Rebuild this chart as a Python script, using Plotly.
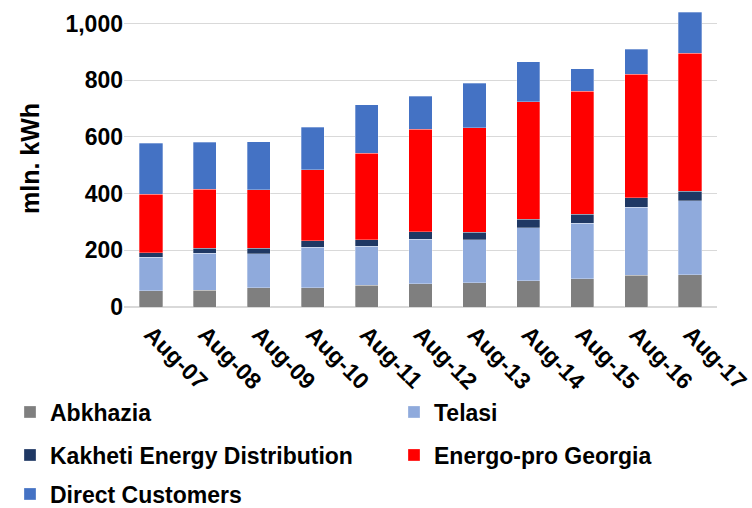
import plotly.graph_objects as go

# Monthly electricity consumption (August), mln. kWh
months = ["Aug-07", "Aug-08", "Aug-09", "Aug-10", "Aug-11", "Aug-12",
          "Aug-13", "Aug-14", "Aug-15", "Aug-16", "Aug-17"]

abkhazia = [57, 59, 68, 68, 77, 82, 85, 92, 99, 112, 113]
telasi = [119, 131, 120, 142, 138, 157, 152, 188, 196, 240, 262]
kakheti = [16, 18, 19, 23, 23, 26, 26, 30, 33, 33, 34]
energo_pro = [205, 208, 207, 251, 304, 362, 369, 415, 433, 437, 487]
direct_customers = [181, 166, 170, 150, 172, 116, 157, 140, 80, 88, 144]

# name, values, colour, legend id, legend position (x, y in container px)
series = [
    ("Abkhazia", abkhazia, "#7F7F7F", "legend", (10, 412)),
    ("Telasi", telasi, "#8FAADC", "legend2", (394, 412)),
    ("Kakheti Energy Distribution", kakheti, "#1F3864", "legend3", (10, 455)),
    ("Energo-pro Georgia", energo_pro, "#FF0000", "legend4", (394, 455)),
    ("Direct Customers", direct_customers, "#4472C4", "legend5", (10, 494)),
]

FONT = "Arial, Liberation Sans, sans-serif"
W, H = 752, 508

fig = go.Figure()
legends = {}
for name, vals, color, leg, (lx, ly) in series:
    fig.add_trace(go.Bar(
        x=months, y=vals, name=name, legend=leg,
        marker=dict(color=color, line=dict(color="rgba(255,255,255,0.6)", width=0.5)),
    ))
    legends[leg] = dict(
        orientation="h", xref="container", yref="container",
        xanchor="left", yanchor="middle", x=lx / W, y=1 - ly / H,
        font=dict(family=FONT, size=23, color="#000000", weight="bold"),
        bgcolor="rgba(0,0,0,0)",
    )

fig.update_layout(
    barmode="stack",
    bargap=0.57,
    width=W, height=H,
    margin=dict(l=124, r=35, t=10, b=201),
    plot_bgcolor="#FFFFFF", paper_bgcolor="#FFFFFF",
    font=dict(family=FONT, color="#000000"),
    showlegend=True,
    xaxis=dict(
        tickangle=45,
        tickfont=dict(family=FONT, size=23, color="#000000", weight="bold"),
        showgrid=False, showline=False, ticks="",
        ticklabelstandoff=8,
        automargin=False,
    ),
    yaxis=dict(
        range=[0, 1048],
        tickvals=[0, 200, 400, 600, 800, 1000],
        tickformat=",d",
        tickfont=dict(family=FONT, size=23, color="#000000", weight="bold"),
        showgrid=True, gridcolor="#D9D9D9", gridwidth=1.3,
        zeroline=True, zerolinecolor="#D9D9D9", zerolinewidth=1.5,
        showline=False, ticks="", automargin=False,
        title=dict(text="mln. kWh", font=dict(family=FONT, size=25, color="#000000", weight="bold"),
                   standoff=18),
    ),
    **legends,
)

fig.write_html("out.html")
